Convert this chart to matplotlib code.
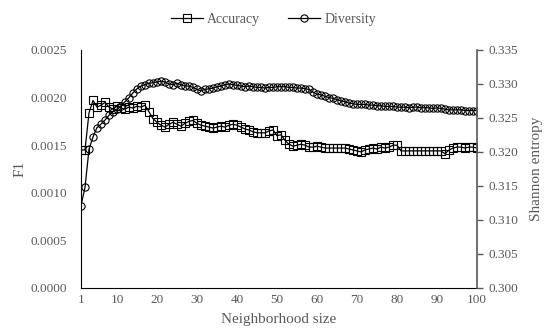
import matplotlib
matplotlib.use("Agg")
import matplotlib.pyplot as plt
import numpy as np

plt.rcParams['font.family'] = ['Liberation Serif', 'DejaVu Serif']

# neighborhood sizes 1..100
sizes = list(range(1, 101))

accuracy = [
    0.00145, 0.00145, 0.00184, 0.00197, 0.00190, 0.00192, 0.00195, 0.00190, 0.00188, 0.00191,
    0.00189, 0.00188, 0.00190, 0.00189, 0.00191, 0.00190, 0.00192, 0.00185, 0.00178, 0.00174,
    0.00171, 0.00169, 0.00172, 0.00174, 0.00172, 0.00170, 0.00173, 0.00175, 0.00176, 0.00173,
    0.00171, 0.00170, 0.00169, 0.00168, 0.00169, 0.00170, 0.00169, 0.00171, 0.00172, 0.00171,
    0.00169, 0.00167, 0.00166, 0.00164, 0.00163, 0.00163, 0.00163, 0.00165, 0.00166, 0.00160,
    0.00161, 0.00155, 0.00151, 0.00149, 0.00150, 0.00151, 0.00150, 0.00148, 0.00148, 0.00149,
    0.00148, 0.00147, 0.00147, 0.00147, 0.00147, 0.00147, 0.00147, 0.00146, 0.00145, 0.00144,
    0.00143, 0.00145, 0.00146, 0.00147, 0.00146, 0.00148, 0.00147, 0.00148, 0.00150, 0.00150,
    0.00144, 0.00144, 0.00144, 0.00144, 0.00144, 0.00144, 0.00144, 0.00144, 0.00144, 0.00144,
    0.00144, 0.00141, 0.00145, 0.00147, 0.00148, 0.00148, 0.00147, 0.00148, 0.00148, 0.00147,
]

diversity = [
    0.3121, 0.3148, 0.3204, 0.3222, 0.3236, 0.3241, 0.3247, 0.3254, 0.3259, 0.3263,
    0.3268, 0.3274, 0.3280, 0.3287, 0.3293, 0.3297, 0.3299, 0.3301, 0.3302, 0.3303,
    0.3304, 0.3303, 0.3300, 0.3299, 0.3301, 0.3299, 0.3297, 0.3297, 0.3295, 0.3292,
    0.3290, 0.3292, 0.3293, 0.3294, 0.3296, 0.3297, 0.3299, 0.3300, 0.3299, 0.3298,
    0.3297, 0.3296, 0.3297, 0.3296, 0.3295, 0.3295, 0.3294, 0.3295, 0.3295, 0.3296,
    0.3296, 0.3296, 0.3295, 0.3295, 0.3294, 0.3294, 0.3293, 0.3292, 0.3288, 0.3285,
    0.3284, 0.3282, 0.3280, 0.3279, 0.3277, 0.3275, 0.3274, 0.3272, 0.3271, 0.3270,
    0.3270, 0.3270, 0.3269, 0.3269, 0.3268, 0.3268, 0.3267, 0.3267, 0.3267, 0.3266,
    0.3266, 0.3266, 0.3265, 0.3266, 0.3266, 0.3265, 0.3265, 0.3265, 0.3264, 0.3265,
    0.3264, 0.3263, 0.3262, 0.3262, 0.3262, 0.3262, 0.3261, 0.3261, 0.3261, 0.3261,
]

x_ticks = [1, 10, 20, 30, 40, 50, 60, 70, 80, 90, 100]
f1_ticks = [0.0, 0.0005, 0.0010, 0.0015, 0.0020, 0.0025]
ent_ticks = [0.300, 0.305, 0.310, 0.315, 0.320, 0.325, 0.330, 0.335]

grey = '#595959'

fig = plt.figure(figsize=(5.47, 3.33), dpi=100)
ax = fig.add_axes([81/547, 45/333, 396/547, 238/333])
ax2 = ax.twinx()

l1, = ax.plot(sizes, accuracy, color='black', lw=0.9, marker='s', ms=5.8,
              mfc='none', mec='black', mew=0.8, label='Accuracy')
l2, = ax2.plot(sizes, diversity, color='black', lw=0.9, marker='o', ms=5.2,
               mfc='none', mec='black', mew=0.8, label='Diversity')

ax.set_xlim(1, 100)
ax.set_ylim(0, 0.0025)
ax2.set_ylim(0.300, 0.335)
ax.set_xticks(x_ticks)
ax.set_yticks(f1_ticks)
ax.set_yticklabels(['%.4f' % v for v in f1_ticks])
ax2.set_yticks(ent_ticks)
ax2.set_yticklabels(['%.3f' % v for v in ent_ticks])

for a in (ax, ax2):
    a.spines['top'].set_visible(False)
ax2.spines['left'].set_visible(False)
ax2.spines['bottom'].set_visible(False)
ax.spines['right'].set_visible(False)
ax.spines['left'].set_color('black')
ax.spines['bottom'].set_color('black')
ax2.spines['right'].set_color(grey)
ax2.spines['right'].set_linewidth(1.2)

ax.tick_params(axis='x', length=0, pad=4, labelsize=9.5, labelcolor=grey)
ax.tick_params(axis='y', length=0, pad=10, labelsize=9.5, labelcolor=grey)
ax2.tick_params(axis='y', length=4, width=1, color=grey, pad=4,
                labelsize=9.5, labelcolor=grey)

ax.set_xlabel('Neighborhood size', fontsize=11, color=grey, labelpad=5)
ax.set_ylabel('F1', fontsize=11, color=grey, labelpad=3)
ax2.set_ylabel('Shannon entropy', fontsize=11, color=grey, labelpad=9)

fig.legend([l1, l2], ['Accuracy', 'Diversity'], loc='upper center',
           bbox_to_anchor=(0.5, 1.0), ncol=2, frameon=False, fontsize=10,
           labelcolor=grey, handlelength=2.3, columnspacing=2.0, handletextpad=0.3)

fig.savefig('out.png', dpi=100)
